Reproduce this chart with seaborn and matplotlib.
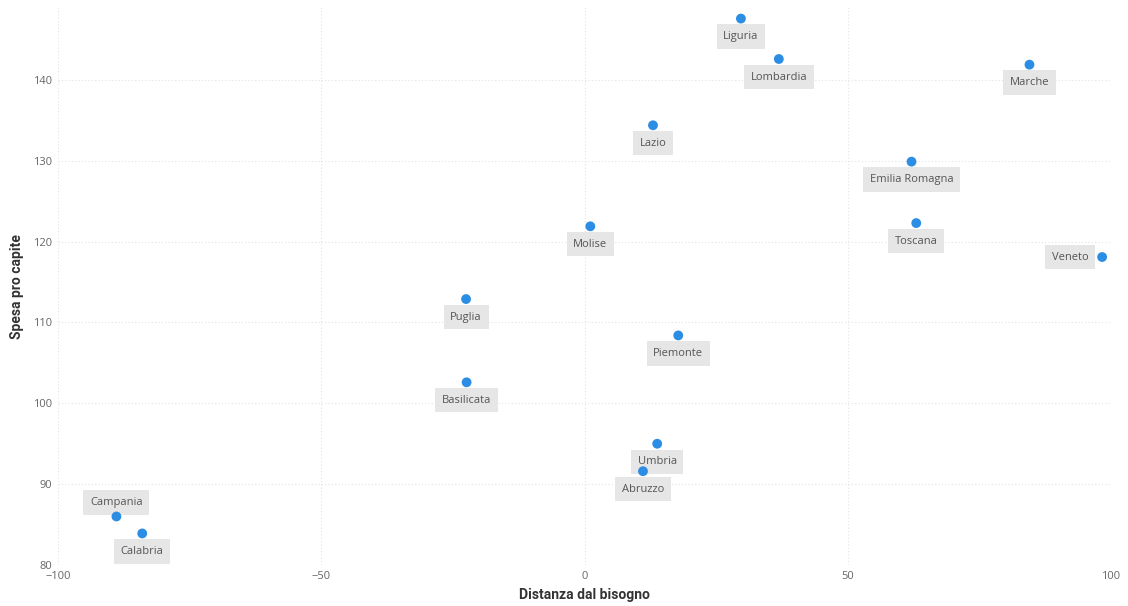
import matplotlib
matplotlib.use("Agg")
import matplotlib.pyplot as plt
import seaborn as sns
import pandas as pd

regioni = ["Liguria", "Lombardia", "Marche", "Lazio", "Emilia Romagna", "Toscana",
           "Veneto", "Molise", "Puglia", "Piemonte", "Basilicata", "Umbria",
           "Abruzzo", "Campania", "Calabria"]
distanza = [29.7, 36.9, 84.5, 13.0, 62.1, 63.0, 98.3, 1.1, -22.5, 17.8, -22.4,
            13.8, 11.1, -88.9, -84.0]
spesa = [147.6, 142.6, 141.9, 134.4, 129.9, 122.3, 118.1, 121.9, 112.9, 108.4,
         102.6, 95.0, 91.6, 86.0, 83.9]
x_ticks = [-100, -50, 0, 50, 100]
y_ticks = [80, 90, 100, 110, 120, 130, 140]

df = pd.DataFrame({"Regione": regioni, "Distanza dal bisogno": distanza,
                   "Spesa pro capite": spesa})

sns.set_theme(style="white")
plt.rcParams["font.family"] = ["Open Sans", "DejaVu Sans"]

fig = plt.figure(figsize=(11.28, 6.06), dpi=100)
ax = fig.add_axes([0.0514, 0.0677, 0.9336, 0.9203])

sns.scatterplot(data=df, x="Distanza dal bisogno", y="Spesa pro capite", ax=ax,
                color="#2b8de3", s=50, edgecolor="none", zorder=5)

# label placement offsets (pixels -> points)
offsets = {"Campania": (0, 14, "center"), "Veneto": (-14, 0, "right")}
for r, xv, yv in zip(regioni, distanza, spesa):
    dx, dy, ha = offsets.get(r, (0, -18, "center"))
    ax.annotate(r, (xv, yv), xytext=(dx * 0.72, dy * 0.72), textcoords="offset points",
                ha=ha, va="center", fontsize=8, color="#555555",
                bbox=dict(boxstyle="square,pad=0.6", fc="#e6e6e6", ec="none"),
                zorder=4)

ax.set_xlim(-100, 100)
ax.set_ylim(80, 149)
ax.set_xticks(x_ticks)
ax.set_yticks(y_ticks)
ax.tick_params(axis="both", labelsize=8, colors="#666666", length=0, pad=4)
ax.grid(True, linestyle=(0, (1, 2)), color="#e3e3e3", linewidth=0.8)
for s in ax.spines.values():
    s.set_visible(False)

ax.set_xlabel("Distanza dal bisogno", fontsize=10, fontweight="bold", color="#333333",
              family=["Roboto", "DejaVu Sans"], labelpad=5)
ax.set_ylabel("Spesa pro capite", fontsize=10, fontweight="bold", color="#333333",
              family=["Roboto", "DejaVu Sans"], labelpad=7)

fig.savefig("out.png", dpi=100)
